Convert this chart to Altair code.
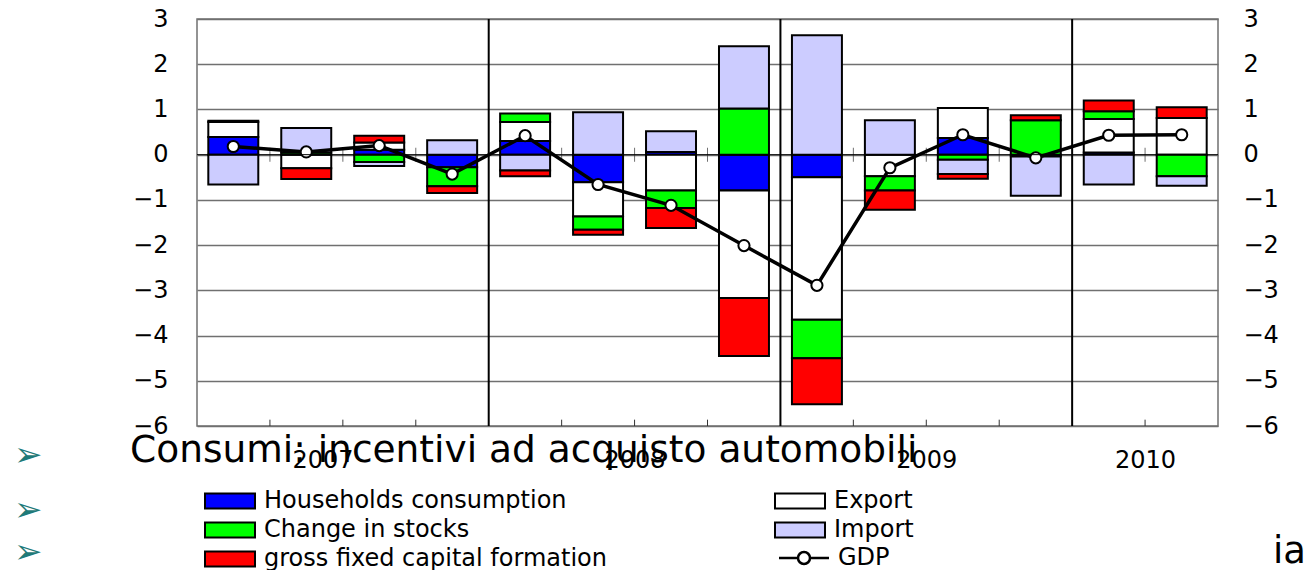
import altair as alt
import pandas as pd

# ---------------- data ----------------
quarters = ["2007Q1", "2007Q2", "2007Q3", "2007Q4",
            "2008Q1", "2008Q2", "2008Q3", "2008Q4",
            "2009Q1", "2009Q2", "2009Q3", "2009Q4",
            "2010Q1", "2010Q2"]

households = [0.39, 0.00, 0.11, -0.28, 0.30, -0.61, 0.06, -0.79, -0.50, 0.00, 0.37, -0.04, 0.05, 0.00]
export     = [0.33, -0.30, 0.16, 0.00, 0.42, -0.76, -0.79, -2.38, -3.15, -0.48, 0.66, 0.00, 0.74, 0.81]
stocks     = [0.00, 0.05, -0.16, -0.42, 0.19, -0.29, -0.39, 1.02, -0.85, -0.31, -0.11, 0.76, 0.17, -0.48]
imports    = [-0.66, 0.54, -0.09, 0.32, -0.35, 0.94, 0.46, 1.38, 2.64, 0.76, -0.32, -0.87, -0.66, -0.21]
gfcf       = [0.03, -0.24, 0.15, -0.15, -0.13, -0.11, -0.44, -1.28, -1.02, -0.43, -0.10, 0.11, 0.24, 0.24]
gdp        = [0.18, 0.06, 0.20, -0.43, 0.42, -0.66, -1.12, -2.01, -2.89, -0.29, 0.44, -0.07, 0.43, 0.44]

# stacking order (Excel series order)
series_names = ["Households consumption", "Export", "Change in stocks", "Import",
                "gross fixed capital formation"]
series_values = [households, export, stocks, imports, gfcf]

# legend order (column-major, two columns)
legend_names = ["Households consumption", "Change in stocks", "gross fixed capital formation",
                "Export", "Import"]
legend_colors = ["#0000FF", "#00FF00", "#FF0000", "#FFFFFF", "#CCCCFF"]

years = ["2007", "2008", "2009", "2010"]
year_label_pos = [1.72, 6, 10, 13]
year_dividers = [4, 8, 12]
quarter_bounds = [1, 2, 3, 5, 6, 7, 9, 10, 11, 13]
y_ticks = [3, 2, 1, 0, -1, -2, -3, -4, -5, -6]

rows = []
for order, (name, vals) in enumerate(zip(series_names, series_values)):
    for q, v in zip(quarters, vals):
        if v != 0:
            rows.append({"quarter": q, "series": name, "value": v, "ord": order})
bars_df = pd.DataFrame(rows)
gdp_df = pd.DataFrame({"quarter": quarters, "gdp": gdp, "lbl": ["GDP"] * len(quarters)})
div_df = pd.DataFrame({"d": year_dividers})
qb_df = pd.DataFrame({"b": quarter_bounds, "z": [0] * len(quarter_bounds)})
zero_df = pd.DataFrame({"z": [0]})

FONT = "DejaVu Sans"
ysc = alt.Scale(domain=[-6, 3], nice=False, zero=False)
xband = alt.Scale(type="band", domain=quarters, paddingInner=0.315, paddingOuter=0.155)
xq = alt.Scale(domain=[0, 14], nice=False, zero=False)

rect_path = "M-3.333,-1H3.333V1H-3.333Z"
gdp_path = ("M-3.333,0H-0.8M0.8,0H3.333M-0.8,0A0.8,0.8,0,1,1,0.8,0"
            "A0.8,0.8,0,1,1,-0.8,0Z")

label_expr = ""
for p, yname in zip(year_label_pos, years):
    label_expr += f"datum.value == {p} ? '{yname}' : "
label_expr += "''"

legend_common = dict(
    orient="none", title=None, symbolSize=225,
    symbolStrokeColor="black", labelFont=FONT, labelFontSize=24, labelColor="black",
    labelOffset=22, rowPadding=5, padding=0, labelLimit=600,
)

# ---------------- layers ----------------
bars = alt.Chart(bars_df).mark_bar(stroke="black", strokeWidth=2).encode(
    x=alt.X("quarter:N", scale=xband, axis=None),
    y=alt.Y("value:Q", stack="zero", scale=ysc, axis=None),
    fill=alt.Fill("series:N",
                  scale=alt.Scale(domain=legend_names, range=legend_colors),
                  legend=alt.Legend(legendX=21, legendY=470, columns=2,
                                    direction="vertical",
                                    symbolType=rect_path, symbolStrokeWidth=2,
                                    columnPadding=164, **legend_common)),
    order=alt.Order("ord:Q"),
)

gdp_line = alt.Chart(gdp_df).mark_line(strokeWidth=3.5).encode(
    x=alt.X("quarter:N", scale=xband, axis=None),
    y=alt.Y("gdp:Q", scale=ysc, axis=None),
    stroke=alt.Stroke("lbl:N", scale=alt.Scale(domain=["GDP"], range=["black"]),
                      legend=alt.Legend(legendX=595, legendY=527, symbolType=gdp_path,
                                        symbolStrokeWidth=2.5, symbolFillColor="white",
                                        **legend_common)),
)
gdp_pts = alt.Chart(gdp_df).mark_point(filled=True, fill="white", stroke="black",
                                       strokeWidth=2, size=125, opacity=1).encode(
    x=alt.X("quarter:N", scale=xband, axis=None),
    y=alt.Y("gdp:Q", scale=ysc, axis=None),
)
inner = alt.layer(bars, gdp_line, gdp_pts)

# right axis rides on the zero line
zero_line = alt.Chart(zero_df).mark_rule(color="black", strokeWidth=1).encode(
    y=alt.Y("z:Q", scale=ysc,
            axis=alt.Axis(orient="right", values=y_ticks, grid=False, ticks=False,
                          domain=False, title=None, labelFont=FONT, labelFontSize=24,
                          labelColor="black", labelPadding=25, labelAlign="left")),
)

dividers = alt.Chart(div_df).mark_rule(color="black", strokeWidth=2).encode(
    x=alt.X("d:Q", scale=xq,
            axis=alt.Axis(values=year_label_pos, labelExpr=label_expr, ticks=False,
                          domain=False, grid=False, title=None, labelFont=FONT,
                          labelFontSize=24, labelColor="black", labelPadding=22)),
)

# left axis + gridlines ride on the small quarter ticks of the zero line
zero_ticks = alt.Chart(qb_df).mark_tick(orient="vertical", size=14, thickness=1,
                                        color="#333333").encode(
    x=alt.X("b:Q", scale=xq, axis=None),
    y=alt.Y("z:Q", scale=ysc,
            axis=alt.Axis(orient="left", values=y_ticks, grid=True, gridColor="#707070",
                          gridWidth=1.3, ticks=False, domain=False, title=None,
                          labelFont=FONT, labelFontSize=24, labelColor="black",
                          labelPadding=29)),
)
bottom_ticks = alt.Chart(qb_df).mark_rule(color="#333333", strokeWidth=1).encode(
    x=alt.X("b:Q", scale=xq, axis=None),
    y=alt.datum(-6, scale=ysc, axis=None),
    y2=alt.datum(-5.86),
)


def overlay(text, x, y, size, color="black", baseline="alphabetic", font=FONT):
    return alt.Chart(alt.Data(values=[{}])).mark_text(
        text=text, font=font, fontSize=size, color=color, align="left",
        baseline=baseline).encode(x=alt.value(x), y=alt.value(y))


slide_title = overlay("Consumi: incentivi ad acquisto automobili", -67, 443, 37.5)
bullet1 = overlay("➢", -183, 437, 34, color="#1f7a78", baseline="middle")
bullet2 = overlay("➢", -183, 492, 34, color="#1f7a78", baseline="middle")
bullet3 = overlay("➢", -183, 534, 34, color="#1f7a78", baseline="middle")
side_text = overlay("ia", 1076, 544, 37)

chart = alt.layer(
    zero_ticks, inner, zero_line, dividers, bottom_ticks,
    slide_title, bullet1, bullet2, bullet3, side_text,
).resolve_scale(x="independent", y="independent").properties(
    width=1021, height=407,
    padding={"left": 189, "top": 11, "right": 87, "bottom": 144},
    autosize=alt.AutoSizeParams(type="none"),
    background="white",
).configure_view(stroke="#707070", strokeWidth=1.5)

chart.save("out.html", embed_options={"renderer": "svg", "actions": False})
